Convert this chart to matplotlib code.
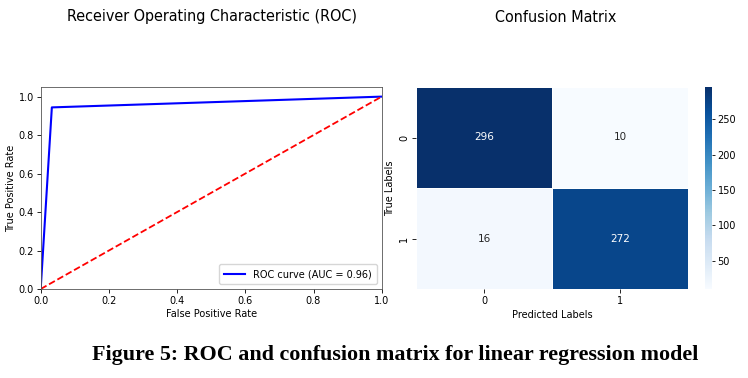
import matplotlib
matplotlib.use("Agg")
import matplotlib.pyplot as plt
import seaborn as sns
import numpy as np

fpr = [0.0, 0.0327, 1.0]
tpr = [0.0, 0.944, 1.0]
auc_val = 0.96
cm = np.array([[296, 10], [16, 272]])
class_labels = ["0", "1"]
cbar_ticks = [50, 100, 150, 200, 250]

fig = plt.figure(figsize=(7.48, 3.78), dpi=100)
W, H = 748, 378

def rect(x0, y0, x1, y1):
    return [x0 / W, 1 - y1 / H, (x1 - x0) / W, (y1 - y0) / H]

fs = 7
ax1 = fig.add_axes(rect(40.7, 87, 381.7, 289))
ax1.plot(fpr, tpr, color="blue", lw=1.5, label=f"ROC curve (AUC = {auc_val:.2f})")
ax1.plot([0, 1], [0, 1], color="red", lw=1.3, ls="--")
ax1.set_xlim(0, 1)
ax1.set_ylim(0, 1.05)
ax1.set_xlabel("False Positive Rate", fontsize=fs, labelpad=2)
ax1.set_ylabel("True Positive Rate", fontsize=fs, labelpad=2)
ax1.tick_params(labelsize=fs, length=3, width=0.6, pad=2)
for s in ax1.spines.values():
    s.set_linewidth(0.6)
    s.set_color("#555555")
ax1.legend(loc="lower right", fontsize=fs, handlelength=2.2, borderpad=0.5)

ax2 = fig.add_axes(rect(416, 87, 688, 289))
cax = fig.add_axes(rect(705, 87, 712, 289))
sns.heatmap(cm, annot=True, fmt="d", cmap="Blues", ax=ax2, cbar_ax=cax,
            linewidths=0.5, linecolor="white",
            xticklabels=class_labels, yticklabels=class_labels,
            annot_kws={"fontsize": 7.5})
ax2.set_xlabel("Predicted Labels", fontsize=fs, labelpad=3)
ax2.set_ylabel("True Labels", fontsize=fs, labelpad=3)
ax2.tick_params(labelsize=fs, length=3, width=0.6, pad=2)
cax.set_yticks(cbar_ticks)
cax.tick_params(labelsize=fs, length=2, width=0.6, pad=2)
for s in cax.spines.values():
    s.set_visible(False)

fig.text(212 / W, 1 - 17 / H, "Receiver Operating Characteristic (ROC)",
         ha="center", va="center", fontsize=11.5, fontstretch="condensed")
fig.text(556 / W, 1 - 17 / H, "Confusion Matrix",
         ha="center", va="center", fontsize=11.5, fontstretch="condensed")
fig.text(395 / W, 1 - 355 / H, "Figure 5: ROC and confusion matrix for linear regression model",
         ha="center", va="center", fontsize=15.8, fontweight="bold",
         family="Liberation Serif")

fig.savefig("out.png", dpi=100)
